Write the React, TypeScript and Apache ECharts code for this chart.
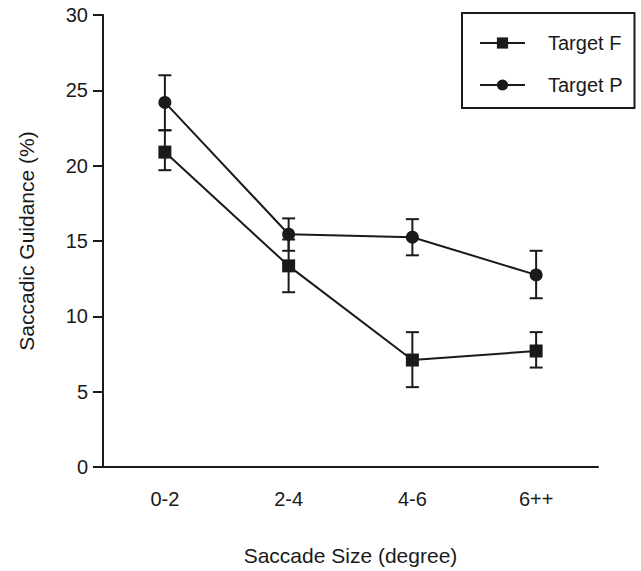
import React, { useEffect, useRef } from "react";
import * as echarts from "echarts";

const categories = ["0-2", "2-4", "4-6", "6++"];
const targetF = [20.9, 13.35, 7.1, 7.7];
const targetFLow = [19.7, 11.6, 5.3, 6.6];
const targetFHigh = [22.35, 15.1, 8.95, 8.95];
const targetP = [24.2, 15.45, 15.25, 12.75];
const targetPLow = [22.35, 14.35, 14.05, 11.2];
const targetPHigh = [26.0, 16.5, 16.45, 14.35];
const yTicks = [0, 5, 10, 15, 20, 25, 30];

const FONT = "'Liberation Sans', Arial, Helvetica, sans-serif";
const INK = "#1a1a1a";

function errData(lows: number[], highs: number[]) {
  return lows.map((lo, i) => [i, lo, highs[i]]);
}

function renderErr(params: any, api: any) {
  const x = api.value(0);
  const lo = api.coord([x, api.value(1)]);
  const hi = api.coord([x, api.value(2)]);
  const half = 6.5;
  const style = { stroke: INK, lineWidth: 2 };
  return {
    type: "group",
    children: [
      { type: "line", shape: { x1: lo[0], y1: lo[1], x2: hi[0], y2: hi[1] }, style },
      { type: "line", shape: { x1: lo[0] - half, y1: lo[1], x2: lo[0] + half, y2: lo[1] }, style },
      { type: "line", shape: { x1: hi[0] - half, y1: hi[1], x2: hi[0] + half, y2: hi[1] }, style },
    ],
  };
}

export default function App() {
  const ref = useRef<HTMLDivElement>(null);
  useEffect(() => {
    if (!ref.current) return;
    const chart = echarts.init(ref.current, null, { renderer: "svg" });
    chart.setOption({
      animation: false,
      backgroundColor: "#ffffff",
      textStyle: { fontFamily: FONT, color: INK },
      grid: { left: 103, right: 43, top: 15, bottom: 98 },
      legend: {
        orient: "vertical",
        left: 462,
        top: 13,
        padding: [20, 12, 13, 17],
        itemWidth: 45,
        itemHeight: 14,
        itemGap: 22,
        borderColor: INK,
        borderWidth: 2,
        borderRadius: 0,
        backgroundColor: "#ffffff",
        textStyle: { fontSize: 20, fontFamily: FONT, color: INK, padding: [0, 0, 0, 18], lineHeight: 20 },
        data: ["Target F", "Target P"],
      },
      xAxis: {
        type: "category",
        data: categories,
        boundaryGap: true,
        name: "Saccade Size (degree)",
        nameLocation: "middle",
        nameGap: 78,
        nameTextStyle: { fontSize: 21, fontFamily: FONT, color: INK },
        axisLine: { lineStyle: { color: INK, width: 2 } },
        axisTick: { alignWithLabel: true, length: 10, lineStyle: { color: INK, width: 2 } },
        axisLabel: { fontSize: 20, fontFamily: FONT, color: INK, margin: 22 },
        splitLine: { show: false },
      },
      yAxis: {
        type: "value",
        min: yTicks[0],
        max: yTicks[yTicks.length - 1],
        interval: 5,
        name: "Saccadic Guidance (%)",
        nameLocation: "middle",
        nameGap: 66,
        nameTextStyle: { fontSize: 21, fontFamily: FONT, color: INK },
        axisLine: { show: true, lineStyle: { color: INK, width: 2 } },
        axisTick: { show: true, length: 10, lineStyle: { color: INK, width: 2 } },
        axisLabel: { fontSize: 20, fontFamily: FONT, color: INK, margin: 15 },
        splitLine: { show: false },
      },
      series: [
        {
          type: "custom",
          name: "errF",
          renderItem: renderErr,
          data: errData(targetFLow, targetFHigh),
          encode: { x: 0, y: [1, 2] },
          z: 1,
          silent: true,
        },
        {
          type: "custom",
          name: "errP",
          renderItem: renderErr,
          data: errData(targetPLow, targetPHigh),
          encode: { x: 0, y: [1, 2] },
          z: 1,
          silent: true,
        },
        {
          type: "line",
          name: "Target F",
          data: targetF,
          symbol: "rect",
          symbolSize: 13,
          showAllSymbol: true,
          itemStyle: { color: INK },
          lineStyle: { color: INK, width: 2 },
          z: 3,
        },
        {
          type: "line",
          name: "Target P",
          data: targetP,
          symbol: "circle",
          symbolSize: 13,
          showAllSymbol: true,
          itemStyle: { color: INK },
          lineStyle: { color: INK, width: 2 },
          z: 3,
        },
      ],
    });
    return () => chart.dispose();
  }, []);
  return <div ref={ref} style={{ width: 641, height: 571, position: "absolute", left: 0, top: 0 }} />;
}
